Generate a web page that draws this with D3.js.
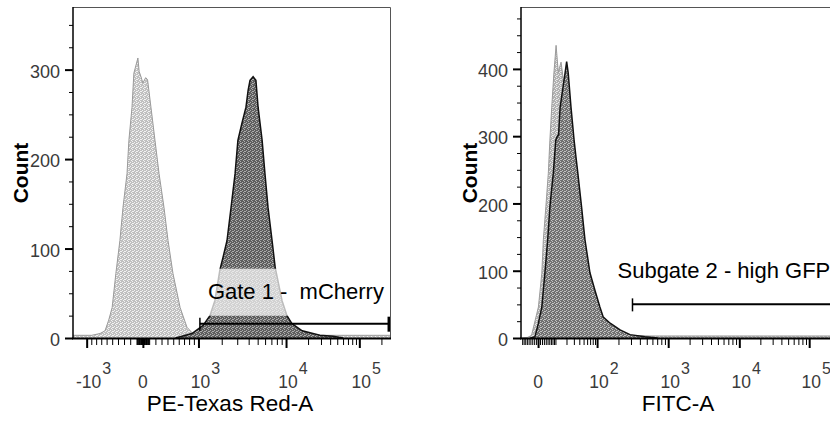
<!DOCTYPE html>
<html>
<head>
<meta charset="utf-8">
<style>
  body { margin: 0; background: #fff; }
  svg { display: block; background: #fff; font-family: "Liberation Sans", Arial, sans-serif; }
  .axis path { display: none; }
  .ylab { font-size: 18px; fill: #3a3a3a; }
  .xlab { font-size: 17.5px; fill: #3a3a3a; }
  .xsup { font-size: 16px; fill: #3a3a3a; }
  .title { font-size: 22.5px; fill: #000; }
  .count { font-size: 21px; font-weight: bold; fill: #000; }
  .gate-text { font-size: 22px; fill: #000; white-space: pre; }
</style>
</head>
<body>
<svg id="chart" width="830" height="421"></svg>
<script src="https://cdn.jsdelivr.net/npm/d3@7/dist/d3.min.js"></script>
<script>
// histograms are kept on the display-channel axis (0..1024), like FlowJo does

// PE-Texas Red: unstained control and mCherry sample
var redControlCh    = [0, 60, 87, 103, 115, 126, 138, 151, 161, 174, 180, 190, 196, 209, 213, 219, 225, 234, 240, 251, 264, 277, 293, 306, 322, 345, 367, 386, 409, 500, 1024];
var redControlCount = [3, 3, 5, 8, 20, 34, 72, 109, 146, 184, 221, 258, 296, 313, 298, 292, 285, 291, 289, 258, 221, 184, 146, 109, 72, 34, 12, 5, 3, 3, 3];
var redSampleCh     = [330, 351, 383, 419, 441, 457, 473, 483, 496, 509, 522, 531, 544, 557, 564, 570, 580, 589, 596, 609, 618, 628, 641, 651, 673, 689, 705, 738, 795, 837, 870];
var redSampleCount  = [0, 2, 5, 14, 25, 42, 76, 90, 109, 146, 184, 221, 240, 258, 277, 288, 292, 288, 258, 221, 184, 146, 109, 79, 42, 25, 16, 8, 3, 2, 0];

// FITC: control and sample
var gfpControlCh    = [0, 22, 34, 56, 67, 72, 80, 88, 93, 99, 106, 113, 120, 129, 136, 145, 158, 174, 190, 209, 232, 254, 287, 335, 415, 1024];
var gfpControlCount = [0, 1, 4, 46, 96, 146, 195, 245, 294, 343, 394, 435, 395, 410, 385, 360, 300, 230, 165, 105, 55, 28, 10, 4, 3, 3];
var gfpSampleCh     = [30, 39, 45, 56, 67, 77, 86, 93, 104, 112, 117, 121, 126, 142, 147, 152, 161, 171, 177, 183, 195, 206, 222, 238, 254, 265, 287, 319, 351, 399, 440];
var gfpSampleCount  = [0, 1, 2, 22, 46, 97, 146, 195, 245, 294, 300, 302, 343, 394, 411, 394, 343, 294, 269, 245, 195, 146, 97, 71, 46, 31, 22, 12, 5, 2, 0];

// decade ticks and the channel they sit on
var redMajorValues   = [-1000, 0, 1000, 10000, 100000];
var redMajorChannels = [44, 225, 404, 686, 922];
var redTickBase      = ["-10", "0", "10", "10", "10"];
var redTickSup       = ["3", "", "3", "4", "5"];

var gfpMajorValues   = [0, 100, 1000, 10000, 100000];
var gfpMajorChannels = [55, 245, 474, 703, 928];
var gfpTickBase      = ["0", "10", "10", "10", "10"];
var gfpTickSup       = ["", "2", "3", "4", "5"];

var redCountMax = 370, gfpCountMax = 492;
var redCountTicks = [0, 100, 200, 300];
var gfpCountTicks = [0, 100, 200, 300, 400];

// gates: [low, high] in fluorescence units, drawn at a count height
var redGate = [1050, 262144], redGateCount = 16, redGateLabel = "Gate 1 -  mCherry";
var gfpGate = [315, 262144], gfpGateCount = 50, gfpGateLabel = "Subgate 2 - high GFP";

var svg = d3.select("#chart");
var defs = svg.append("defs");

// scattered-dot fill, like the dithered histograms of the original
function stipple(id, base, dot) {
  var p = defs.append("pattern").attr("id", id)
    .attr("patternUnits", "userSpaceOnUse").attr("width", 4).attr("height", 4);
  p.append("rect").attr("width", 4).attr("height", 4).attr("fill", base);
  [[0, 0], [2, 1], [1, 3], [3, 2], [3, 0]].forEach(function(d) {
    p.append("rect").attr("x", d[0]).attr("y", d[1]).attr("width", 1).attr("height", 1).attr("fill", dot);
  });
}
stipple("redCtl", "#c0c0c0", "#f2f2f2");
stipple("redSmp", "#5e5e5e", "#adadad");
stipple("gfpCtl", "#b0b0b0", "#e8e8e8");
stipple("gfpSmp", "#717171", "#c2c2c2");

function zip(ch, n) { return ch.map(function(c, i) { return { ch: c, n: n[i] }; }); }

var width = 318, height = 331;

function panel(o) {
  var g = svg.append("g").attr("transform", "translate(" + o.left + ",7)");

  var S = function(v) { return Math.asinh(v / o.c); };
  var x = d3.scaleLinear().domain([0, 1024]).range([0, width]);
  // biexponential-ish axis: piecewise linear in asinh space between decade ticks
  var sx = d3.scaleLinear().domain(o.majorValues.map(S)).range(o.majorChannels.map(x));
  var fx = function(v) { return sx(S(v)); };
  var y = d3.scaleLinear().domain([0, o.yMax]).range([height, 0]);

  var clipId = "clip" + o.id;
  defs.append("clipPath").attr("id", clipId).append("rect")
    .attr("width", width).attr("height", height);

  var area = d3.area().x(function(d) { return x(d.ch); }).y0(height).y1(function(d) { return y(d.n); });
  var line = d3.line().x(function(d) { return x(d.ch); }).y(function(d) { return y(d.n); });

  var plot = g.append("g").attr("clip-path", "url(#" + clipId + ")");
  var ctl = zip(o.controlCh, o.controlCount);
  var smp = zip(o.sampleCh, o.sampleCount);
  plot.append("path").datum(ctl).attr("d", area).attr("fill", "url(#" + o.id + "Ctl)");
  plot.append("path").datum(ctl).attr("d", line).attr("fill", "none").attr("stroke", "#9a9a9a").attr("stroke-width", 1);
  plot.append("path").datum(smp).attr("d", area).attr("fill", "url(#" + o.id + "Smp)");
  plot.append("path").datum(smp).attr("d", line).attr("fill", "none").attr("stroke", "#111").attr("stroke-width", 1.5);

  // gate
  var gx0 = fx(o.gate[0]), gx1 = fx(o.gate[1]), gy = y(o.gateCount);
  plot.append("rect").attr("x", gx0 + o.boxDx).attr("y", gy - 55)
    .attr("width", gx1 - gx0 - o.boxDx).attr("height", 47)
    .attr("fill", "#fff").attr("fill-opacity", 0.72);
  plot.append("line").attr("x1", gx0).attr("x2", gx1).attr("y1", gy).attr("y2", gy)
    .attr("stroke", "#000").attr("stroke-width", 2);
  plot.append("line").attr("x1", gx0).attr("x2", gx0).attr("y1", gy - 6).attr("y2", gy + 7)
    .attr("stroke", "#000").attr("stroke-width", 1.5);
  plot.append("line").attr("x1", gx1 - 1).attr("x2", gx1 - 1).attr("y1", gy - 7).attr("y2", gy + 8)
    .attr("stroke", "#000").attr("stroke-width", 3);
  g.append("text").attr("class", "gate-text").attr("xml:space", "preserve")
    .attr("x", gx0 + o.textDx).attr("y", gy + o.textDy).text(o.gateLabel);

  // frame
  g.append("path").attr("d", "M0,0.5H" + (width - 0.5) + "V" + height)
    .attr("fill", "none").attr("stroke", "#555").attr("stroke-width", 1);
  g.append("line").attr("x1", 0).attr("x2", 0).attr("y1", 0).attr("y2", height)
    .attr("stroke", "#000").attr("stroke-width", 1.5);
  g.append("line").attr("x1", -1).attr("x2", width).attr("y1", height + 0.5).attr("y2", height + 0.5)
    .attr("stroke", "#000").attr("stroke-width", 2);

  // y axis
  var minorY = d3.range(0, o.yMax + 1, 25).filter(function(v) { return v % 100 !== 0; });
  g.append("g").attr("class", "axis").call(d3.axisLeft(y).tickValues(minorY).tickSize(4).tickFormat(""))
    .selectAll("line").attr("stroke", "#000");
  var yMaj = g.append("g").attr("class", "axis").call(d3.axisLeft(y).tickValues(o.yTicks).tickSize(8).tickPadding(5));
  yMaj.selectAll("line").attr("stroke", "#000").attr("stroke-width", 2);
  yMaj.selectAll("text").attr("class", "ylab").attr("font-family", null).attr("font-size", null)
    .attr("fill", null).attr("dy", "0.42em");

  // x axis minor ticks: k * 10^d on both sides of zero
  var minorX = [];
  d3.range(0, 6).forEach(function(d) {
    d3.range(1, 10).forEach(function(k) {
      [1, -1].forEach(function(s) { minorX.push(s * k * Math.pow(10, d)); });
    });
  });
  minorX = minorX.filter(function(v) {
    var px = fx(v);
    return o.majorValues.indexOf(v) < 0 && px >= 0 && px <= width;
  });
  g.append("g").attr("class", "axis").attr("transform", "translate(0," + height + ")")
    .call(d3.axisBottom(sx).tickValues(minorX.map(S)).tickSize(7).tickFormat(""))
    .selectAll("line").attr("stroke", "#000");
  g.append("g").attr("class", "axis").attr("transform", "translate(0," + height + ")")
    .call(d3.axisBottom(sx).tickValues(o.majorValues.map(S)).tickSize(10).tickFormat(""))
    .selectAll("line").attr("stroke", "#000").attr("stroke-width", 2);

  var labs = g.append("g").selectAll("g").data(o.majorValues).join("g")
    .attr("transform", function(v) { return "translate(" + (fx(v) + (v === 0 ? 0 : 2)) + ",0)"; });
  labs.append("text").attr("class", "xlab").attr("y", 381).attr("text-anchor", "middle")
    .text(function(v, i) { return o.tickBase[i]; });
  labs.append("text").attr("class", "xsup").attr("y", 367)
    .attr("x", function() { return this.previousSibling.getComputedTextLength() / 2 + 1; })
    .text(function(v, i) { return o.tickSup[i]; });

  // titles
  g.append("text").attr("class", "title").attr("x", width / 2 - 2).attr("y", 404)
    .attr("text-anchor", "middle").text(o.title);
  g.append("text").attr("class", "count").attr("text-anchor", "middle")
    .attr("transform", "translate(" + o.countX + "," + 166 + ") rotate(-90)").text("Count");
}

panel({
  id: "red", left: 73, c: 1000,
  controlCh: redControlCh, controlCount: redControlCount,
  sampleCh: redSampleCh, sampleCount: redSampleCount,
  majorValues: redMajorValues, majorChannels: redMajorChannels,
  tickBase: redTickBase, tickSup: redTickSup,
  yMax: redCountMax, yTicks: redCountTicks,
  gate: redGate, gateCount: redGateCount, gateLabel: redGateLabel,
  boxDx: 5, textDx: 8, textDy: -25,
  title: "PE-Texas Red-A", countX: -45
});

panel({
  id: "gfp", left: 521, c: 10,
  controlCh: gfpControlCh, controlCount: gfpControlCount,
  sampleCh: gfpSampleCh, sampleCount: gfpSampleCount,
  majorValues: gfpMajorValues, majorChannels: gfpMajorChannels,
  tickBase: gfpTickBase, tickSup: gfpTickSup,
  yMax: gfpCountMax, yTicks: gfpCountTicks,
  gate: gfpGate, gateCount: gfpGateCount, gateLabel: gfpGateLabel,
  boxDx: -18, textDx: -15, textDy: -26,
  title: "FITC-A", countX: -44
});
</script>
</body>
</html>
